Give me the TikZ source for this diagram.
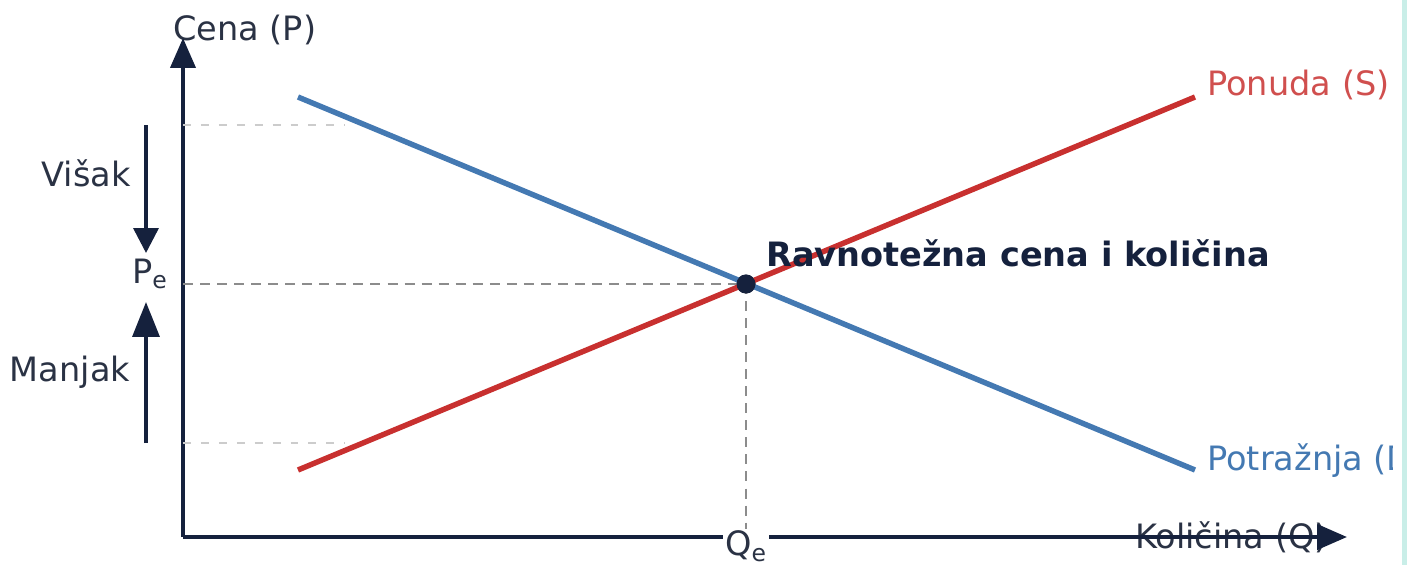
\documentclass[tikz,border=0pt]{standalone}
\usepackage{fontspec}
\setmainfont{DejaVu Sans}
\usetikzlibrary{arrows.meta}

\definecolor{navy}{HTML}{15213D}
\definecolor{inkgray}{HTML}{2A3244}
\definecolor{supred}{HTML}{C8302F}
\definecolor{demblue}{HTML}{4479B2}
\definecolor{edgeteal}{HTML}{C9EEE8}

\begin{document}
\begin{tikzpicture}[x=0.02cm, y=-0.02cm,
                    every node/.style={font=\fontsize{19.1}{22}\selectfont, inner sep=0pt, text=inkgray},
                    axis/.style={draw=navy, line width=2.3pt},
                    curve/.style={line width=3.1pt},
                    guide/.style={draw=gray!90, line width=1.4pt, dash pattern=on 5.7pt off 4pt},
                    faint/.style={draw=gray!40, line width=1.2pt, dash pattern=on 4.5pt off 5.7pt},
                    pricearrow/.style={draw=navy, line width=2pt, -{Triangle[length=0.5cm, width=0.5cm]}}]

    \useasboundingbox (0,0) rectangle (1407,565);

    % Axis labels (under the axes)
    \node[anchor=west] (qlab) at (1135,537) {Količina (Q)}; % Quantity
    \node[anchor=west] (plab) at (173,30) {Cena (P)}; % Price

    % Axes
    \coordinate (O) at (183,537);
    \coordinate (Ptop) at (183,38);
    \coordinate (Qend) at (1347,537);
    \draw[axis, -{Triangle[length=0.6cm, width=0.5cm]}] (O) -- (Ptop);
    \draw[axis, -{Triangle[length=0.6cm, width=0.5cm]}] (O) -- (Qend);

    % Guide lines
    \coordinate (Pe) at (183,284);
    \coordinate (Qe) at (746,537);
    \coordinate (Hi) at (183,125);
    \coordinate (HiEnd) at (345,125);
    \coordinate (Lo) at (183,443);
    \coordinate (LoEnd) at (345,443);
    \draw[faint] (Hi) -- (HiEnd);
    \draw[faint] (Lo) -- (LoEnd);

    % Equilibrium point
    \node[circle, fill=navy, minimum size=0.38cm] (E) at (746,284) {};
    \draw[guide] (Pe) -- (E.center);
    \draw[guide] (E.center) -- (Qe);

    % Demand and supply
    \coordinate (D1) at (298,97);
    \coordinate (D2) at (1195,470);
    \coordinate (S1) at (298,470);
    \coordinate (S2) at (1195,97);
    \draw[curve, demblue] (D1) -- (D2);
    \draw[curve, supred] (S1) -- (S2);
    \node[circle, fill=navy, minimum size=0.38cm] at (E) {};

    % Curve labels
    \node[anchor=west, text=supred!85!white] (slab) at (1207,85) {Ponuda (S)};
    \node[anchor=west, text=demblue] (dlab) at (1207,461) {Potražnja (D)};
    \node[anchor=west, font=\fontsize{19.1}{22}\selectfont\bfseries, text=navy] (elab) at (766,253) {Ravnotežna cena i količina};

    % Equilibrium values
    \node[fill=white, inner sep=1pt] (qe) at (746,546) {Q\textsubscript{e}};
    \node (pe) at (150,274) {P\textsubscript{e}};

    % Surplus and shortage
    \node (visak) at (86,173) {Višak};
    \node (manjak) at (70,372) {Manjak};
    \coordinate (V1) at (146,125);
    \coordinate (V2) at (146,253);
    \coordinate (M1) at (146,443);
    \coordinate (M2) at (146,302);
    \draw[pricearrow] (V1) -- (V2);
    \draw[pricearrow, -{Triangle[length=0.7cm, width=0.54cm]}] (M1) -- (M2);

    % Cropped right edge
    \fill[white] (1393,0) rectangle (1402,565);
    \fill[edgeteal] (1402,0) rectangle (1407,565);
\end{tikzpicture}
\end{document}
